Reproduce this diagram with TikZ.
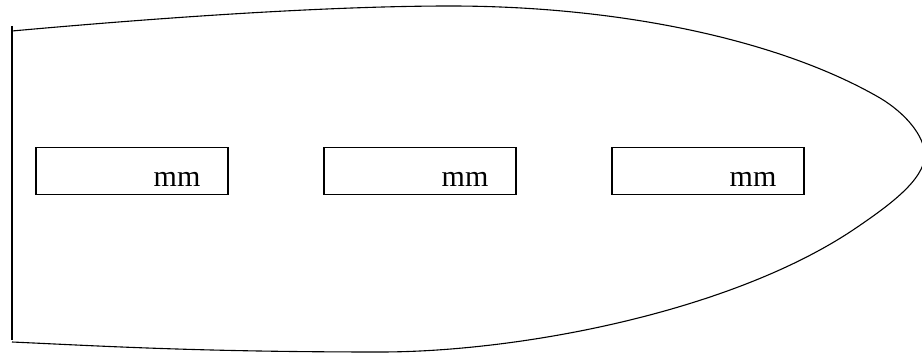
\documentclass[tikz,border=0pt]{standalone}
\usepackage{fontspec}
\setmainfont{Liberation Serif}
\begin{document}
\begin{tikzpicture}[x=1pt,y=-1pt,
  outline/.style={draw=black,line width=1.1pt},
  box/.style={draw=black,line width=1.2pt,minimum width=192pt,minimum height=47pt,inner sep=0pt},
  lbl/.style={inner sep=0pt,font=\fontsize{30}{32}\selectfont}]
\useasboundingbox (0,0) rectangle (922,353);
\draw[line width=1.5pt] (12,26) -- (12,340);
\draw[outline] (12,31) .. controls (200,14) and (350,6) .. (450,6)
  .. controls (620,6) and (780,40) .. (880,98)
  .. controls (905,113) and (924,135) .. (925,155)
  .. controls (924,180) and (890,205) .. (853,230)
  .. controls (730,312) and (520,352) .. (380,352)
  .. controls (200,352) and (100,346) .. (12,342);
\foreach \i/\x in {1/132,2/420,3/708}{
  \node[box] (b\i) at (\x,171) {};
  \node[lbl,anchor=base east] (t\i) at ([xshift=-28pt,yshift=9pt]b\i.south east) {mm};
}
\end{tikzpicture}
\end{document}
